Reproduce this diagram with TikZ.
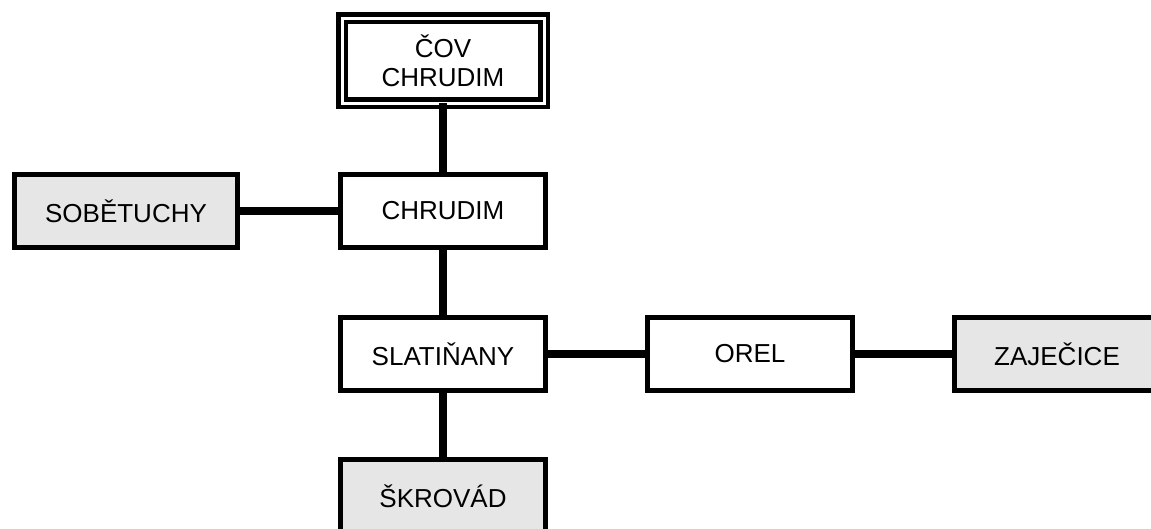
\documentclass[tikz,border=0pt]{standalone}
\usepackage{fontspec}
\setmainfont{Liberation Sans}
\definecolor{boxgray}{RGB}{230,230,230}
\begin{document}
\begin{tikzpicture}[x=1pt,y=-1pt,
  every node/.style={font=\fontsize{26}{29}\selectfont, align=center,
    inner sep=0pt, outer sep=0pt},
  plainbox/.style={draw=black, fill=white, line width=5pt,
    minimum width=205pt, minimum height=73pt},
  graybox/.style={plainbox, fill=boxgray},
  plantbox/.style={draw=black, fill=white, line width=4.5pt,
    double=white, double distance=3pt,
    minimum width=202pt, minimum height=85pt},
  link/.style={line width=8pt, line cap=butt}]
\useasboundingbox (0,0) rectangle (1151,528);
\clip (0,0) rectangle (1151,528);

% treatment plant and the sewer network feeding it
\node[plantbox] (cov) at (443,60.6) {ČOV\\CHRUDIM};
\node[plainbox] (chrudim) at (443,211) {CHRUDIM};
\node[graybox, minimum width=223pt] (sobetuchy) at (126,211) {SOBĚTUCHY};
\node[plainbox] (slatinany) at (443,354) {SLATIŇANY};
\node[plainbox] (orel) at (750,354) {OREL};
\node[graybox] (zajecice) at (1057,354) {ZAJEČICE};
\node[graybox] (skrovad) at (443,496) {ŠKROVÁD};

% connections
\draw[link] (cov.south) -- (chrudim.north);
\draw[link] (sobetuchy.east) -- (chrudim.west);
\draw[link] (chrudim.south) -- (slatinany.north);
\draw[link] (slatinany.east) -- (orel.west);
\draw[link] (orel.east) -- (zajecice.west);
\draw[link] (slatinany.south) -- (skrovad.north);
\end{tikzpicture}
\end{document}
